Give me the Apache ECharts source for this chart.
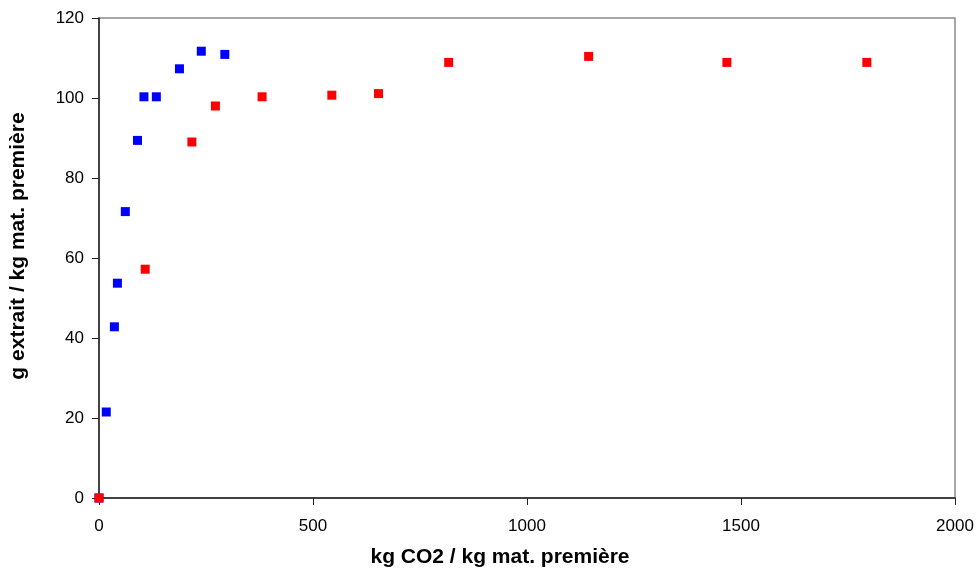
<!DOCTYPE html>
<html>
<head>
<meta charset="utf-8">
<script src="https://cdn.jsdelivr.net/npm/echarts@6/dist/echarts.min.js"></script>
<style>html,body{margin:0;padding:0;background:#fff;}#c{width:980px;height:574px;}</style>
</head>
<body>
<div id="c"></div>
<script>
const blueX = [0, 17, 36, 43, 61.5, 90, 105, 134, 188, 239, 294];
const blueY = [0, 21.5, 42.8, 53.7, 71.6, 89.4, 100.3, 100.3, 107.3, 111.7, 110.9];
const redX = [0, 108, 217, 272, 381, 544, 653, 817, 1144, 1467, 1794];
const redY = [0, 57.2, 89, 98, 100.3, 100.7, 101.1, 108.9, 110.4, 108.9, 108.9];
const xTicks = [0, 500, 1000, 1500, 2000];
const yTicks = [0, 20, 40, 60, 80, 100, 120];

const font = 'Liberation Sans, Arial, sans-serif';
const chart = echarts.init(document.getElementById('c'), null, {renderer: 'canvas'});
chart.setOption({
  animation: false,
  grid: {left: 99, right: 25, top: 18, bottom: 76, outerBoundsMode: 'none', containLabel: false,
         show: true, borderColor: '#8c8c8c', borderWidth: 1.5, backgroundColor: 'transparent'},
  xAxis: {
    type: 'value', min: xTicks[0], max: xTicks[xTicks.length - 1], interval: 500,
    name: 'kg CO2 / kg mat. première', nameLocation: 'middle', nameGap: 49,
    nameTextStyle: {fontFamily: font, fontSize: 21, fontWeight: 'bold', color: '#000', padding: [0, 54, 0, 0]},
    axisLine: {onZero: false, lineStyle: {color: '#222', width: 1.5}},
    axisTick: {show: true, length: 7, lineStyle: {color: '#222'}},
    axisLabel: {margin: 20, fontFamily: font, fontSize: 17, color: '#000', formatter: v => String(v)},
    splitLine: {show: false}
  },
  yAxis: {
    type: 'value', min: yTicks[0], max: yTicks[yTicks.length - 1], interval: 20,
    name: 'g extrait / kg mat. première', nameLocation: 'middle', nameGap: 70,
    nameTextStyle: {fontFamily: font, fontSize: 21, fontWeight: 'bold', color: '#000', padding: [0, 0, 0, 24]},
    axisLine: {show: true, onZero: false, lineStyle: {color: '#222', width: 1.5}},
    axisTick: {show: true, length: 7, lineStyle: {color: '#222'}},
    axisLabel: {margin: 15, fontFamily: font, fontSize: 17, color: '#000', formatter: v => String(v)},
    splitLine: {show: false}
  },
  series: [
    {type: 'scatter', symbol: 'rect', symbolSize: 9, itemStyle: {color: '#0000ff', opacity: 1},
     data: blueX.map((x, i) => [x, blueY[i]])},
    {type: 'scatter', symbol: 'rect', symbolSize: 9, itemStyle: {color: '#ff0000', opacity: 1},
     data: redX.map((x, i) => [x, redY[i]])}
  ]
});
</script>
</body>
</html>
